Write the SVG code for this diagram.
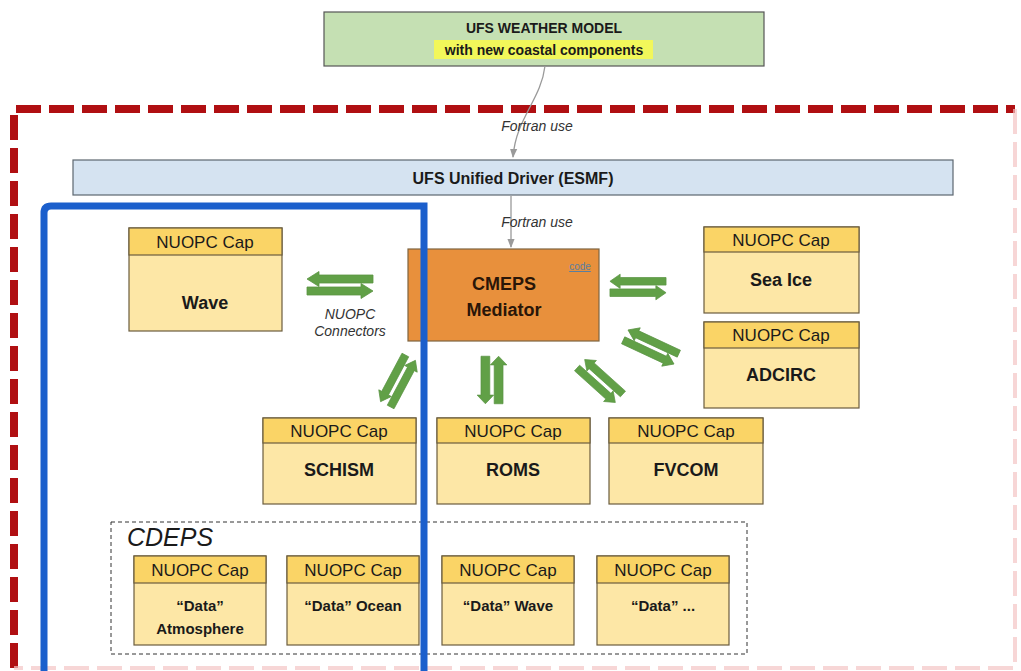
<svg xmlns="http://www.w3.org/2000/svg" width="1021" height="671" viewBox="0 0 1021 671">
<style>
.t{font-family:"Liberation Sans",Arial,sans-serif;fill:#1a1a1a;text-anchor:middle}
.cap{font-size:17px}
.nm{font-size:18px;font-weight:bold}
.dn{font-size:15px;font-weight:bold}
.it{font-style:italic;font-size:14px;fill:#333}
.hdr{fill:#fad466;stroke:#6b5d3e;stroke-width:1.2}
.body{fill:#fde7a6;stroke:#6b5d3e;stroke-width:1.2}
.arr{fill:#61a047;stroke:#5a9443;stroke-width:0.8}
.conn{fill:none;stroke:#9a9a9a;stroke-width:1.3}
</style>
<defs>
<marker id="ah" viewBox="0 0 10 10" refX="9" refY="5" markerWidth="7" markerHeight="7" orient="auto">
<path d="M0,1 L10,5 L0,9 z" fill="#9a9a9a"/>
</marker>
<g id="dbl">
<polygon class="arr" points="-33,-6 -21,-13.5 -21,-10 33,-10 33,-2 -21,-2 -21,1.5"/>
<polygon class="arr" points="33,6 21,13.5 21,10 -33,10 -33,2 21,2 21,-1.5"/>
</g>
</defs>
<rect width="1021" height="671" fill="#ffffff"/>

<!-- red dashed boundary -->
<g id="boundary">
<path d="M14,668 L14,109 L1015,109" fill="none" stroke="#b00f12" stroke-width="8" stroke-dasharray="25 8"/>
<path d="M1015,109 L1015,668 L14,668" fill="none" stroke="#f4c4c4" stroke-width="4" stroke-dasharray="25 8" opacity="0.7"/>
</g>

<!-- top model -->
<g id="ufs-model">
<rect x="324" y="12" width="440" height="54" fill="#c5e0b3" stroke="#555" stroke-width="1.2"/>
<rect x="434" y="40" width="219" height="19" fill="#f2f75a"/>
<text class="t" x="544" y="33" style="font-size:14px;font-weight:bold">UFS WEATHER MODEL</text>
<text class="t" x="544" y="55" style="font-size:14px;font-weight:bold">with new coastal components</text>
</g>

<!-- driver -->
<g id="driver">
<rect x="73" y="160" width="880" height="35" fill="#d5e3f1" stroke="#5d6770" stroke-width="1.2"/>
<text class="t" x="513" y="184" style="font-size:16px;font-weight:bold">UFS Unified Driver (ESMF)</text>
</g>

<!-- connectors -->
<g id="connectors">
<path class="conn" d="M545,66 C541,100 516,118 513,157" marker-end="url(#ah)"/>
<text class="t it" x="537" y="131">Fortran use</text>
<path class="conn" d="M511,196 L511,247" marker-end="url(#ah)"/>
<text class="t it" x="537" y="227">Fortran use</text>
<use href="#dbl" transform="translate(340,285)"/>
<text class="t it" x="350" y="319">NUOPC</text>
<text class="t it" x="350" y="336">Connectors</text>
<use href="#dbl" transform="translate(638,287) scale(0.85,0.95)"/>
<use href="#dbl" transform="translate(651,347) rotate(25) scale(0.85,0.95)"/>
<use href="#dbl" transform="translate(600,381) rotate(42) scale(0.78,0.95)"/>
<use href="#dbl" transform="translate(492,380) rotate(90) scale(0.72,1.1)"/>
<use href="#dbl" transform="translate(398,381) rotate(118) scale(0.8,0.95)"/>
</g>

<!-- mediator -->
<g id="cmeps">
<rect x="408" y="249" width="191" height="92" fill="#e8903c" stroke="#7e6440" stroke-width="1.2"/>
<text class="t nm" x="504" y="290" style="fill:#2a1608">CMEPS</text>
<text class="t nm" x="504" y="316" style="fill:#2a1608">Mediator</text>
<text class="t" x="580" y="270" style="font-size:10px;fill:#5a7fa0;text-decoration:underline">code</text>
</g>

<g id="wave">
<rect class="body" x="129" y="228" width="153" height="103"/>
<rect class="hdr" x="129" y="228" width="153" height="27"/>
<text class="t cap" x="205" y="248">NUOPC Cap</text>
<text class="t nm" x="205" y="309">Wave</text>
</g>

<g id="seaice">
<rect class="body" x="704" y="227" width="155" height="86"/>
<rect class="hdr" x="704" y="227" width="155" height="25"/>
<text class="t cap" x="781" y="246">NUOPC Cap</text>
<text class="t nm" x="781" y="286">Sea Ice</text>
</g>

<g id="adcirc">
<rect class="body" x="704" y="322" width="155" height="86"/>
<rect class="hdr" x="704" y="322" width="155" height="26"/>
<text class="t cap" x="781" y="341">NUOPC Cap</text>
<text class="t nm" x="781" y="381">ADCIRC</text>
</g>

<g id="schism">
<rect class="body" x="263" y="418" width="153" height="86"/>
<rect class="hdr" x="263" y="418" width="153" height="25"/>
<text class="t cap" x="339" y="437">NUOPC Cap</text>
<text class="t nm" x="339" y="476">SCHISM</text>
</g>

<g id="roms">
<rect class="body" x="437" y="418" width="153" height="86"/>
<rect class="hdr" x="437" y="418" width="153" height="25"/>
<text class="t cap" x="513" y="437">NUOPC Cap</text>
<text class="t nm" x="513" y="476">ROMS</text>
</g>

<g id="fvcom">
<rect class="body" x="609" y="418" width="154" height="86"/>
<rect class="hdr" x="609" y="418" width="154" height="25"/>
<text class="t cap" x="686" y="437">NUOPC Cap</text>
<text class="t nm" x="686" y="476">FVCOM</text>
</g>

<g id="cdeps">
<rect x="111" y="522" width="636" height="132" fill="none" stroke="#333" stroke-width="1" stroke-dasharray="4 3"/>
<text x="127" y="546" style="font-family:'Liberation Sans',Arial,sans-serif;font-style:italic;font-size:25px;fill:#1a1a1a">CDEPS</text>
</g>

<g id="data-atm">
<rect class="body" x="134" y="556" width="132" height="89"/>
<rect class="hdr" x="134" y="556" width="132" height="27"/>
<text class="t cap" x="200" y="576">NUOPC Cap</text>
<text class="t dn" x="200" y="611">“Data”</text>
<text class="t dn" x="200" y="634">Atmosphere</text>
</g>

<g id="data-ocean">
<rect class="body" x="287" y="556" width="132" height="89"/>
<rect class="hdr" x="287" y="556" width="132" height="27"/>
<text class="t cap" x="353" y="576">NUOPC Cap</text>
<text class="t dn" x="353" y="611">“Data” Ocean</text>
</g>

<g id="data-wave">
<rect class="body" x="442" y="556" width="132" height="89"/>
<rect class="hdr" x="442" y="556" width="132" height="27"/>
<text class="t cap" x="508" y="576">NUOPC Cap</text>
<text class="t dn" x="508" y="611">“Data” Wave</text>
</g>

<g id="data-other">
<rect class="body" x="597" y="556" width="132" height="89"/>
<rect class="hdr" x="597" y="556" width="132" height="27"/>
<text class="t cap" x="663" y="576">NUOPC Cap</text>
<text class="t dn" x="663" y="611">“Data” ...</text>
</g>

<!-- blue highlight -->
<g id="highlight">
<path d="M44,680 L44,213 Q44,206 51,206 L424,206 L424,680" fill="none" stroke="#1b5fcc" stroke-width="7"/>
</g>
</svg>
